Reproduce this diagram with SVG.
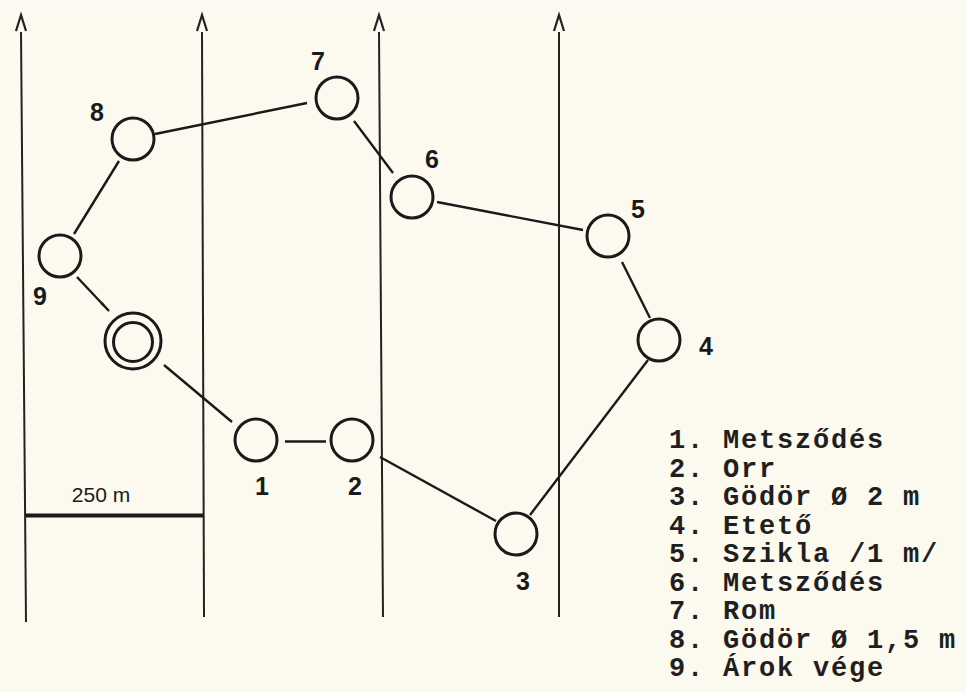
<svg xmlns="http://www.w3.org/2000/svg" width="966" height="692" viewBox="0 0 966 692">
<defs>
<style>
.bg{fill:#fcf9ee}
.grid{stroke:#222;stroke-width:2;fill:none}
.chev{stroke:#222;stroke-width:2.2;fill:none;stroke-linejoin:miter}
.node{fill:none;stroke:#1a1a1a;stroke-width:3}
.edge{stroke:#1a1a1a;stroke-width:2.4;fill:none}
.lbl{font-family:"Liberation Sans",Arial,sans-serif;font-size:25px;font-weight:bold;fill:#1a1a1a;text-anchor:middle}
.leg{font-family:"Liberation Mono","Courier New",monospace;font-size:27px;letter-spacing:1.8px;font-weight:bold;fill:#1f1f1f}
.scale{font-family:"Liberation Sans",Arial,sans-serif;font-size:21px;fill:#1a1a1a;text-anchor:middle}
</style>
<marker id="arr" viewBox="0 0 12 6" refX="11" refY="3" markerWidth="12" markerHeight="6" markerUnits="userSpaceOnUse" orient="auto">
<path d="M0,1.6 L12,3 L0,4.4 Z" fill="#1a1a1a"/>
</marker>
</defs>
<rect class="bg" x="0" y="0" width="966" height="692"/>
<rect x="0" y="0" width="966" height="13" fill="#faf9f4"/>

<g id="grid">
<line class="grid" x1="21" y1="32" x2="26" y2="622"/>
<polyline class="chev" points="16,31 21,15 26,31"/>
<line class="grid" x1="202" y1="32" x2="204" y2="617"/>
<polyline class="chev" points="197,31 202,15 207,31"/>
<line class="grid" x1="379" y1="32" x2="383" y2="617"/>
<polyline class="chev" points="374,31 379,15 384,31"/>
<line class="grid" x1="559" y1="32" x2="559" y2="617"/>
<polyline class="chev" points="554,31 559,15 564,31"/>
</g>

<g id="scale">
<line x1="26" y1="515.5" x2="203" y2="515.5" stroke="#1a1a1a" stroke-width="4"/>
<text class="scale" x="101" y="502">250 m</text>
</g>

<g id="connectors">
<line class="edge" x1="74" y1="234" x2="119" y2="161"/>
<line class="edge" x1="155" y1="134" x2="307" y2="103"/>
<line class="edge" x1="354" y1="121" x2="393" y2="173"/>
<line class="edge" x1="437" y1="202" x2="583" y2="230"/>
<line class="edge" x1="622" y1="262" x2="650" y2="318"/>
<line class="edge" x1="648" y1="360" x2="530" y2="515"/>
<line class="edge" x1="496" y1="521" x2="380" y2="457"/>
<line class="edge" x1="326" y1="441.5" x2="285" y2="441.5"/>
<line class="edge" x1="232" y1="422" x2="164" y2="365"/>
<line class="edge" x1="77" y1="277" x2="109" y2="311" marker-end="url(#arr)"/>
</g>

<g id="n1"><circle class="node" cx="256" cy="440" r="21"/><text class="lbl" x="262" y="495">1</text></g>
<g id="n2"><circle class="node" cx="352" cy="440" r="21"/><text class="lbl" x="355" y="495">2</text></g>
<g id="n3"><circle class="node" cx="516" cy="534" r="21"/><text class="lbl" x="523" y="590">3</text></g>
<g id="n4"><circle class="node" cx="659" cy="340" r="21"/><text class="lbl" x="706" y="355">4</text></g>
<g id="n5"><circle class="node" cx="608" cy="236" r="21"/><text class="lbl" x="638" y="218">5</text></g>
<g id="n6"><circle class="node" cx="412" cy="197" r="21"/><text class="lbl" x="432" y="168">6</text></g>
<g id="n7"><circle class="node" cx="337" cy="98" r="21"/><text class="lbl" x="318" y="70">7</text></g>
<g id="n8"><circle class="node" cx="133" cy="139" r="21"/><text class="lbl" x="97" y="121">8</text></g>
<g id="n9"><circle class="node" cx="60" cy="256" r="21"/><text class="lbl" x="40" y="305">9</text></g>
<g id="start"><circle class="node" cx="133" cy="341" r="28"/><circle class="node" cx="133" cy="342" r="19.5"/></g>

<g id="legend">
<text class="leg" x="669" y="448">1. Metsződés</text>
<text class="leg" x="669" y="476.5">2. Orr</text>
<text class="leg" x="669" y="505">3. Gödör Ø 2 m</text>
<text class="leg" x="669" y="533.5">4. Etető</text>
<text class="leg" x="669" y="562">5. Szikla /1 m/</text>
<text class="leg" x="669" y="590.5">6. Metsződés</text>
<text class="leg" x="669" y="619">7. Rom</text>
<text class="leg" x="669" y="647.5">8. Gödör Ø 1,5 m</text>
<text class="leg" x="669" y="676">9. Árok vége</text>
</g>
</svg>
